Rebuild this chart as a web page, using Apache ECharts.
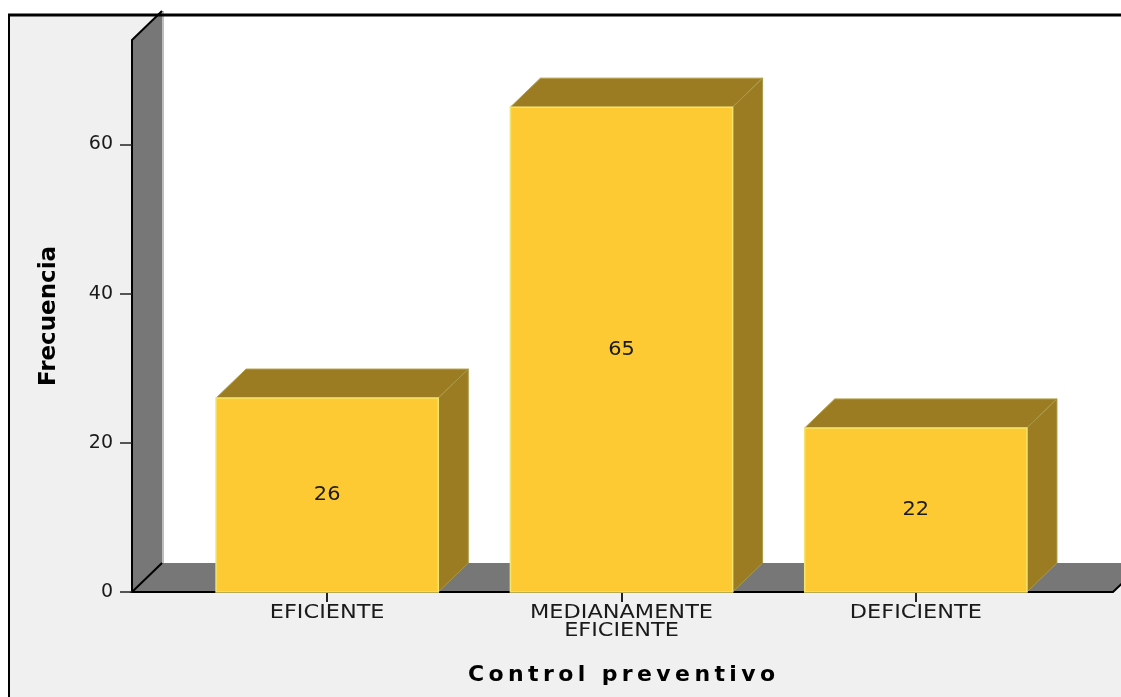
<!DOCTYPE html>
<html>
<head>
<meta charset="utf-8">
<script src="https://cdn.jsdelivr.net/npm/echarts@6/dist/echarts.min.js"></script>
<style>
  html, body { margin: 0; padding: 0; background: #ffffff; }
  #chart { width: 1121px; height: 697px; }
</style>
</head>
<body>
<div id="chart"></div>
<script>
// Frecuencias por nivel de control preventivo
const categorias = ['EFICIENTE', 'MEDIANAMENTE\nEFICIENTE', 'DEFICIENTE'];
const frecuencias = [26, 65, 22];
const ticksY = [0, 20, 40, 60];
const tituloX = 'Control preventivo';
const tituloY = 'Frecuencia';

// 3D look: depth offset of boxes, wall and floor (pixels)
const DX = 30, DY = 29;
const AXIS_OFFSET = 48;      // front edge of wall, left of category band
const FLOOR_EXTRA = 50;      // floor overhang right of category band
const WIDE = 1.18;           // horizontal stretch of category / value text

const FRONT = '#FDCA33', SHADE = '#9C7C23', EDGE = '#F2E46C';
const WALL = '#777777', FRAME = '#F0F0F0';
const FONT = '"DejaVu Sans", "Liberation Sans", sans-serif';

const chart = echarts.init(document.getElementById('chart'), null, { renderer: 'canvas' });

function renderBox(params, api) {
  const cat = api.value(0), val = api.value(1);
  const base = api.coord([cat, 0]);
  const top = api.coord([cat, val]);
  const bw = api.size([1, 0])[0] * 0.755;
  const x0 = base[0] - bw / 2, x1 = x0 + bw;
  const yT = top[1], yB = base[1];
  return {
    type: 'group',
    children: [
      { type: 'polygon', shape: { points: [[x0, yT], [x0 + DX, yT - DY], [x1 + DX, yT - DY], [x1, yT]] },
        style: { fill: SHADE, stroke: '#B3A04A', lineWidth: 1 } },
      { type: 'polygon', shape: { points: [[x1, yT], [x1 + DX, yT - DY], [x1 + DX, yB - DY], [x1, yB]] },
        style: { fill: SHADE, stroke: '#A89A48', lineWidth: 1 } },
      { type: 'rect', shape: { x: x0, y: yT, width: bw, height: yB - yT },
        style: { fill: FRONT, stroke: EDGE, lineWidth: 1.5 } },
      { type: 'text', x: base[0], y: (yT + yB) / 2, scaleX: 1.1,
        style: { text: String(val), fill: '#1a1a1a', font: '19px ' + FONT, align: 'center', verticalAlign: 'middle' } },
      { type: 'text', x: base[0], y: yB + 12, scaleX: WIDE,
        style: { text: categorias[cat], fill: '#1a1a1a', font: '19px ' + FONT, lineHeight: 18,
                 align: 'center', verticalAlign: 'top' } }
    ]
  };
}

function renderFrame(params, api) {
  const cs = params.coordSys;
  const xf = cs.x - AXIS_OFFSET;
  const yTop = cs.y, yBase = cs.y + cs.height;
  const xr = cs.x + cs.width + FLOOR_EXTRA;
  const W = api.getWidth();
  return {
    type: 'group',
    children: [
      // back panel
      { type: 'rect', shape: { x: xf + DX, y: 0, width: W - xf - DX, height: yBase - DY },
        style: { fill: '#ffffff' } },
      // side wall
      { type: 'polygon', shape: { points: [[xf, yTop], [xf + DX, yTop - DY], [xf + DX, yBase - DY], [xf, yBase]] },
        style: { fill: WALL } },
      { type: 'line', shape: { x1: xf + DX + 1, y1: yTop - DY, x2: xf + DX + 1, y2: yBase - DY },
        style: { stroke: '#BDBDBD', lineWidth: 2 } },
      // floor
      { type: 'polygon', shape: { points: [[xf, yBase], [xf + DX, yBase - DY], [xr + DX, yBase - DY], [xr, yBase]] },
        style: { fill: WALL } },
      { type: 'polyline', shape: { points: [[xf, yTop], [xf + DX, yTop - DY]] },
        style: { stroke: '#000', lineWidth: 2 } },
      { type: 'polyline', shape: { points: [[xf + DX, yBase - DY], [xf, yBase], [xr, yBase], [xr + DX, yBase - DY]] },
        style: { stroke: '#000', lineWidth: 2, fill: null } }
    ]
  };
}

chart.setOption({
  animation: false,
  backgroundColor: 'transparent',
  graphic: [
    { type: 'rect', z: -10, shape: { x: 8, y: 14, width: 1113, height: 683 }, style: { fill: FRAME } },
    { type: 'line', z: 100, shape: { x1: 8, y1: 15, x2: 1121, y2: 15 }, style: { stroke: '#000', lineWidth: 3 } },
    { type: 'line', z: 100, shape: { x1: 9, y1: 14, x2: 9, y2: 697 }, style: { stroke: '#000', lineWidth: 2 } }
  ],
  grid: { left: 180, right: 58, top: 40, height: 552, containLabel: false },
  xAxis: {
    type: 'category',
    data: categorias,
    boundaryGap: true,
    axisLine: { show: false },
    axisTick: { show: true, alignWithLabel: true, length: 10, lineStyle: { color: '#222', width: 2 } },
    axisLabel: { show: false },
    splitLine: { show: false },
    name: tituloX.split('').join('\u2009'),
    nameLocation: 'middle',
    nameGap: 72,
    nameTextStyle: { color: '#000', fontFamily: FONT, fontWeight: 'bold', fontSize: 22 }
  },
  yAxis: {
    type: 'value',
    min: 0,
    max: 74,
    offset: AXIS_OFFSET,
    z: 5,
    axisLine: { show: true, lineStyle: { color: '#000', width: 2 } },
    axisTick: { show: true, length: 12, customValues: ticksY, lineStyle: { color: '#222', width: 1.5 } },
    axisLabel: { customValues: ticksY, color: '#1a1a1a', fontFamily: FONT, fontSize: 19, margin: 19 },
    splitLine: { show: false },
    name: tituloY,
    nameLocation: 'middle',
    nameRotate: 90,
    nameGap: 71,
    nameTextStyle: { color: '#000', fontFamily: FONT, fontWeight: 'bold', fontSize: 23 }
  },
  series: [
    {
      type: 'custom',
      z: 1,
      silent: true,
      renderItem: renderFrame,
      data: [[0, 0]]
    },
    {
      type: 'custom',
      z: 3,
      renderItem: renderBox,
      encode: { x: 0, y: 1 },
      data: frecuencias.map((v, i) => [i, v])
    }
  ]
});
</script>
</body>
</html>
